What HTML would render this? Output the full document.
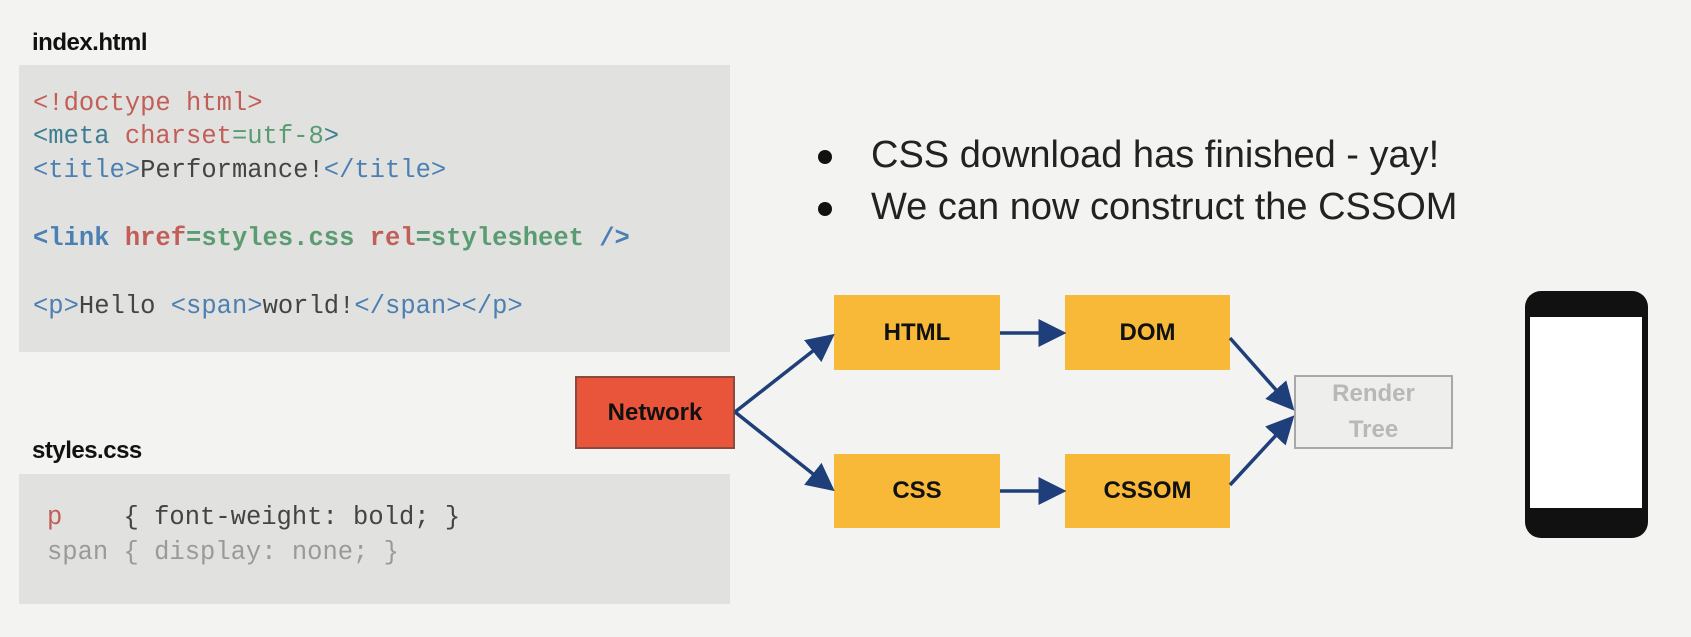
<!DOCTYPE html>
<html><head><meta charset="utf-8"><style>
body{margin:0;width:1691px;height:637px;background:#f3f3f1;position:relative;overflow:hidden;font-family:"Liberation Sans",sans-serif}
.a{position:absolute}
.lbl{font-weight:bold;font-size:24px;color:#111;letter-spacing:-0.5px}
.code{background:#e1e1df;}
.m{font-family:"Liberation Mono",monospace;font-size:25.5px;white-space:pre;line-height:30px}
.y{background:#f8b838;font-weight:bold;font-size:24px;color:#111;display:flex;align-items:center;justify-content:center}
.r{color:#c25e58}.b{color:#4c7fb2}.g{color:#5a9c72}.d{color:#444}.t{color:#3f7e92}
</style></head><body>
<div class="a lbl" style="left:32px;top:29px">index.html</div>
<div class="a code" style="left:19px;top:65px;width:711px;height:287px"></div>
<div class="a m" style="left:33px;top:89px"><span class="r">&lt;!doctype html&gt;</span></div>
<div class="a m" style="left:33px;top:122px"><span class="t">&lt;meta</span> <span class="r">charset</span><span class="g">=utf-8</span><span class="t">&gt;</span></div>
<div class="a m" style="left:33px;top:156px"><span class="b">&lt;title&gt;</span><span class="d">Performance!</span><span class="b">&lt;/title&gt;</span></div>
<div class="a m" style="left:33px;top:224px;font-weight:bold"><span class="b">&lt;link</span> <span class="r">href</span><span class="g">=styles.css</span> <span class="r">rel</span><span class="g">=stylesheet</span> <span class="b">/&gt;</span></div>
<div class="a m" style="left:33px;top:292px"><span class="b">&lt;p&gt;</span><span class="d">Hello </span><span class="b">&lt;span&gt;</span><span class="d">world!</span><span class="b">&lt;/span&gt;&lt;/p&gt;</span></div>
<div class="a lbl" style="left:32px;top:437px">styles.css</div>
<div class="a code" style="left:19px;top:474px;width:711px;height:130px"></div>
<div class="a m" style="left:47px;top:503px"><span class="r">p</span><span class="d">    { font-weight: bold; }</span></div>
<div class="a m" style="left:47px;top:538px;color:#9a9a9a">span { display: none; }</div>

<div class="a" style="left:818px;top:150px;width:14px;height:14px;border-radius:50%;background:#111"></div>
<div class="a" style="left:818px;top:202px;width:14px;height:14px;border-radius:50%;background:#111"></div>
<div class="a" style="left:871px;top:134px;font-size:38px;color:#222">CSS download has finished - yay!</div>
<div class="a" style="left:871px;top:186px;font-size:38px;color:#222">We can now construct the CSSOM</div>

<div class="a y" style="left:575px;top:376px;width:156px;height:69px;background:#e8553a;border:2px solid #8a4b3c">Network</div>
<div class="a y" style="left:834px;top:295px;width:166px;height:75px">HTML</div>
<div class="a y" style="left:1065px;top:295px;width:165px;height:75px">DOM</div>
<div class="a y" style="left:834px;top:454px;width:166px;height:74px">CSS</div>
<div class="a y" style="left:1065px;top:454px;width:165px;height:74px">CSSOM</div>
<div class="a y" style="left:1294px;top:375px;width:155px;height:70px;background:#eeeeec;border:2px solid #a8a8a8;color:#b8b8b8;font-weight:bold;line-height:36px;text-align:center;flex-direction:column"><div>Render</div><div>Tree</div></div>

<svg class="a" style="left:0;top:0" width="1691" height="637">
<defs><marker id="ar" markerWidth="8" markerHeight="8" refX="7" refY="4" orient="auto" markerUnits="strokeWidth"><path d="M0,0 L8,4 L0,8 z" fill="#1f3f7a"/></marker></defs>
<g stroke="#1f3f7a" stroke-width="3.5" fill="none" marker-end="url(#ar)">
<line x1="735" y1="412" x2="832" y2="336"/>
<line x1="735" y1="412" x2="832" y2="489"/>
<line x1="1000" y1="333" x2="1063" y2="333"/>
<line x1="1000" y1="491" x2="1063" y2="491"/>
<line x1="1230" y1="338" x2="1292" y2="408"/>
<line x1="1230" y1="485" x2="1292" y2="418"/>
</g>
<rect x="1525" y="291" width="123" height="247" rx="16" fill="#111"/>
<rect x="1530" y="317" width="112" height="191" fill="#fff"/>
</svg>
</body></html>
